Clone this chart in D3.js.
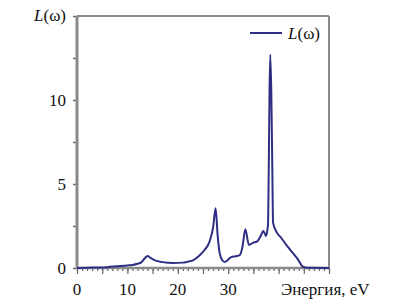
<!DOCTYPE html>
<html>
<head>
<meta charset="utf-8">
<script src="https://cdn.jsdelivr.net/npm/d3@7"></script>
<style>
body { margin: 0; background: #fff; }
text { font-family: "Liberation Serif", "DejaVu Serif", serif; }
</style>
</head>
<body>
<div id="caja"></div>
<script>
// energy (eV) and loss function L(w)
var energia = [0, 2, 4, 6, 8, 10, 11, 12, 12.8, 13.5, 14, 14.5, 15.5, 17, 19, 21, 22, 23, 24.4, 25.3, 26.3, 27.0, 27.5, 27.9, 28.3, 28.8, 29.3, 30.6, 31.5, 32.3, 32.8, 33.4, 34.1, 34.9, 35.7, 36.6, 36.9, 37.2, 37.5, 37.9, 38.05, 38.2, 38.35, 38.55, 38.75, 38.9, 39.5, 40.5, 41.8, 42.8, 43.8, 44.8, 45.5, 47, 50];
var valores = [0, 0.02, 0.03, 0.05, 0.1, 0.15, 0.18, 0.25, 0.35, 0.6, 0.72, 0.62, 0.45, 0.35, 0.3, 0.32, 0.38, 0.45, 0.77, 1.07, 1.57, 2.4, 3.55, 1.96, 0.9, 0.48, 0.36, 0.65, 0.7, 0.77, 1.2, 2.3, 1.37, 1.5, 1.57, 2.0, 2.2, 2.1, 1.9, 2.6, 6, 10.5, 12.7, 10.5, 6, 2.7, 2.2, 1.8, 1.27, 0.9, 0.53, 0.08, 0.02, 0.01, 0];
var xEtiquetas = [0, 10, 20, 30];
var yEtiquetas = [0, 5, 10];

var w = 411, h = 306;
var m = {left: 77, right: 82, top: 16, bottom: 38};

var chart = d3.select('#caja')
	.append('svg')
	.attr('width', w)
	.attr('height', h);

var x = d3.scaleLinear().domain([0, 50]).range([m.left, w - m.right]);
var y = d3.scaleLinear().domain([0, 15]).range([h - m.bottom, m.top]);

var gris = "#8a8a8a";

// frame top / right
chart.append("line")
	.attr("x1", x(0)).attr("x2", x(50)).attr("y1", y(15)).attr("y2", y(15))
	.style("stroke", gris).style("stroke-width", 2);
chart.append("line")
	.attr("x1", x(50)).attr("x2", x(50)).attr("y1", y(15)).attr("y2", y(0))
	.style("stroke", gris).style("stroke-width", 2);

// x axis: minor ticks every 1, longer every 5
var xAxis = chart.append("g").attr("transform", "translate(0," + y(0) + ")");
xAxis.call(d3.axisBottom(x).tickValues(d3.range(0, 51, 1)).tickSize(3).tickFormat(""));
xAxis.append("g").call(d3.axisBottom(x).tickValues(d3.range(0, 51, 5)).tickSize(6).tickFormat(""));
xAxis.selectAll(".domain").remove();
xAxis.selectAll("line").style("stroke", "#666").style("stroke-width", 1.2);

xAxis.selectAll(".lbl")
	.data(xEtiquetas)
	.enter()
	.append("text")
	.attr("x", function(d) { return x(d); })
	.attr("y", 27)
	.attr("text-anchor", "middle")
	.style("font-size", "17px")
	.style("fill", "#111")
	.text(function(d) { return d; });

// y axis: ticks every 2.5
var yAxis = chart.append("g").attr("transform", "translate(" + x(0) + ",0)");
yAxis.call(d3.axisLeft(y).tickValues(d3.range(0, 15.1, 2.5)).tickSize(4).tickFormat(""));
yAxis.selectAll(".domain").remove();
yAxis.selectAll("line").style("stroke", "#666").style("stroke-width", 1.5);

yAxis.selectAll(".lbl")
	.data(yEtiquetas)
	.enter()
	.append("text")
	.attr("x", -11)
	.attr("y", function(d) { return y(d) + 6; })
	.attr("text-anchor", "end")
	.style("font-size", "17px")
	.style("fill", "#111")
	.text(function(d) { return d; });

// axis lines
chart.append("line")
	.attr("x1", x(0)).attr("x2", x(0)).attr("y1", y(15)).attr("y2", y(0) + 1)
	.style("stroke", gris).style("stroke-width", 3);
chart.append("line")
	.attr("x1", x(0) - 1).attr("x2", x(50)).attr("y1", y(0)).attr("y2", y(0))
	.style("stroke", gris).style("stroke-width", 2.5);

// curve
var datos = energia.map(function(e, i) { return {e: e, v: valores[i]}; });
var linea = d3.line()
	.x(function(d) { return x(d.e); })
	.y(function(d) { return y(d.v); })
	.curve(d3.curveMonotoneX);

chart.append("path")
	.datum(datos)
	.attr("d", linea)
	.style("fill", "none")
	.style("stroke", "#2e2e82")
	.style("stroke-width", 2)
	.style("stroke-linejoin", "round");

// y title
var yt = chart.append("text")
	.attr("x", 66)
	.attr("y", 21)
	.attr("text-anchor", "end")
	.style("font-size", "17px")
	.style("fill", "#111");
yt.append("tspan").style("font-style", "italic").text("L");
yt.append("tspan").text("(ω)");

// x title
chart.append("text")
	.attr("x", 281)
	.attr("y", 295)
	.style("font-size", "17px")
	.style("fill", "#111")
	.text("Энергия, eV");

// legend
chart.append("line")
	.attr("x1", 250).attr("x2", 282).attr("y1", 33).attr("y2", 33)
	.style("stroke", "#2e2e82").style("stroke-width", 2);
var lt = chart.append("text")
	.attr("x", 288)
	.attr("y", 39)
	.style("font-size", "17px")
	.style("fill", "#111");
lt.append("tspan").style("font-style", "italic").text("L");
lt.append("tspan").text("(ω)");
</script>
</body>
</html>
